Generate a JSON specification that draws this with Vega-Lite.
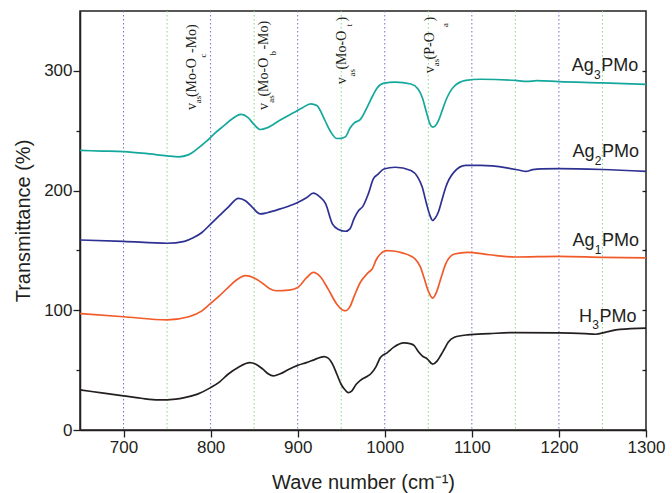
{
  "$schema": "https://vega.github.io/schema/vega-lite/v6.json",
  "width": 566,
  "height": 419,
  "autosize": {"type": "none"},
  "padding": {"left": 80, "top": 11, "right": 26, "bottom": 63},
  "background": "white",
  "config": {
    "view": {"stroke": "#231F20", "strokeWidth": 1.5},
    "axis": {"grid": false, "domainColor": "#231F20", "domainWidth": 1.5, "tickColor": "#231F20", "tickWidth": 1.3, "labelColor": "#231F20", "titleColor": "#231F20", "labelFont": "Liberation Sans", "titleFont": "Liberation Sans", "labelFontSize": 17, "titleFontSize": 20, "titleFontWeight": "normal"}
  },
  "datasets": {
    "curves": [
      {"s":"Ag3PMo","w":650,"t":233.5},{"s":"Ag3PMo","w":675,"t":233},{"s":"Ag3PMo","w":700,"t":232.5},{"s":"Ag3PMo","w":725,"t":231},{"s":"Ag3PMo","w":750,"t":229},{"s":"Ag3PMo","w":763,"t":228.2},{"s":"Ag3PMo","w":775,"t":230},{"s":"Ag3PMo","w":785,"t":235},{"s":"Ag3PMo","w":795,"t":241},{"s":"Ag3PMo","w":805,"t":248},{"s":"Ag3PMo","w":815,"t":254},{"s":"Ag3PMo","w":825,"t":260},{"s":"Ag3PMo","w":835,"t":263.6},{"s":"Ag3PMo","w":843,"t":261},{"s":"Ag3PMo","w":850,"t":255},{"s":"Ag3PMo","w":857,"t":251},{"s":"Ag3PMo","w":865,"t":252.5},{"s":"Ag3PMo","w":880,"t":259},{"s":"Ag3PMo","w":895,"t":265},{"s":"Ag3PMo","w":905,"t":269},{"s":"Ag3PMo","w":915,"t":272.5},{"s":"Ag3PMo","w":922,"t":271},{"s":"Ag3PMo","w":931,"t":259},{"s":"Ag3PMo","w":938,"t":249},{"s":"Ag3PMo","w":945,"t":243.5},{"s":"Ag3PMo","w":950,"t":243.6},{"s":"Ag3PMo","w":955,"t":245},{"s":"Ag3PMo","w":960,"t":252},{"s":"Ag3PMo","w":965,"t":256.5},{"s":"Ag3PMo","w":972,"t":259.5},{"s":"Ag3PMo","w":980,"t":270},{"s":"Ag3PMo","w":986,"t":279},{"s":"Ag3PMo","w":991,"t":285.5},{"s":"Ag3PMo","w":999,"t":289.7},{"s":"Ag3PMo","w":1012,"t":290.6},{"s":"Ag3PMo","w":1030,"t":289},{"s":"Ag3PMo","w":1038,"t":285},{"s":"Ag3PMo","w":1043,"t":278},{"s":"Ag3PMo","w":1048,"t":265},{"s":"Ag3PMo","w":1052,"t":255.5},{"s":"Ag3PMo","w":1055,"t":253},{"s":"Ag3PMo","w":1058,"t":254},{"s":"Ag3PMo","w":1062,"t":259},{"s":"Ag3PMo","w":1066,"t":267},{"s":"Ag3PMo","w":1070,"t":275},{"s":"Ag3PMo","w":1079,"t":286.5},{"s":"Ag3PMo","w":1093,"t":292},{"s":"Ag3PMo","w":1110,"t":293},{"s":"Ag3PMo","w":1150,"t":292},{"s":"Ag3PMo","w":1163,"t":291.2},{"s":"Ag3PMo","w":1175,"t":291.8},{"s":"Ag3PMo","w":1200,"t":291},{"s":"Ag3PMo","w":1250,"t":290},{"s":"Ag3PMo","w":1300,"t":288.7},

      {"s":"Ag2PMo","w":650,"t":158.7},{"s":"Ag2PMo","w":700,"t":157.6},{"s":"Ag2PMo","w":750,"t":156},{"s":"Ag2PMo","w":770,"t":157.6},{"s":"Ag2PMo","w":780,"t":160.5},{"s":"Ag2PMo","w":790,"t":165},{"s":"Ag2PMo","w":800,"t":172},{"s":"Ag2PMo","w":810,"t":179},{"s":"Ag2PMo","w":820,"t":186},{"s":"Ag2PMo","w":832,"t":193.5},{"s":"Ag2PMo","w":840,"t":191.5},{"s":"Ag2PMo","w":848,"t":186},{"s":"Ag2PMo","w":857,"t":180.5},{"s":"Ag2PMo","w":865,"t":181.5},{"s":"Ag2PMo","w":880,"t":184.7},{"s":"Ag2PMo","w":900,"t":190},{"s":"Ag2PMo","w":910,"t":194},{"s":"Ag2PMo","w":918,"t":197.8},{"s":"Ag2PMo","w":925,"t":195},{"s":"Ag2PMo","w":932,"t":189},{"s":"Ag2PMo","w":940,"t":172},{"s":"Ag2PMo","w":947,"t":167.5},{"s":"Ag2PMo","w":955,"t":166},{"s":"Ag2PMo","w":960,"t":168},{"s":"Ag2PMo","w":965,"t":177},{"s":"Ag2PMo","w":970,"t":183.3},{"s":"Ag2PMo","w":975,"t":187},{"s":"Ag2PMo","w":981,"t":197},{"s":"Ag2PMo","w":987,"t":210},{"s":"Ag2PMo","w":992,"t":213.5},{"s":"Ag2PMo","w":999,"t":218},{"s":"Ag2PMo","w":1012,"t":219.5},{"s":"Ag2PMo","w":1030,"t":216.7},{"s":"Ag2PMo","w":1038,"t":211},{"s":"Ag2PMo","w":1043,"t":203},{"s":"Ag2PMo","w":1048,"t":188.8},{"s":"Ag2PMo","w":1052,"t":179},{"s":"Ag2PMo","w":1055,"t":175},{"s":"Ag2PMo","w":1058,"t":177},{"s":"Ag2PMo","w":1062,"t":183},{"s":"Ag2PMo","w":1066,"t":193},{"s":"Ag2PMo","w":1070,"t":202.8},{"s":"Ag2PMo","w":1079,"t":215},{"s":"Ag2PMo","w":1093,"t":221},{"s":"Ag2PMo","w":1110,"t":221},{"s":"Ag2PMo","w":1140,"t":219},{"s":"Ag2PMo","w":1155,"t":217},{"s":"Ag2PMo","w":1162,"t":216},{"s":"Ag2PMo","w":1170,"t":217.5},{"s":"Ag2PMo","w":1180,"t":218.2},{"s":"Ag2PMo","w":1200,"t":218.4},{"s":"Ag2PMo","w":1250,"t":217.6},{"s":"Ag2PMo","w":1300,"t":216},

      {"s":"Ag1PMo","w":650,"t":97.3},{"s":"Ag1PMo","w":700,"t":94.6},{"s":"Ag1PMo","w":750,"t":92},{"s":"Ag1PMo","w":775,"t":94.6},{"s":"Ag1PMo","w":790,"t":99.5},{"s":"Ag1PMo","w":800,"t":105.7},{"s":"Ag1PMo","w":810,"t":112},{"s":"Ag1PMo","w":820,"t":119},{"s":"Ag1PMo","w":830,"t":125.5},{"s":"Ag1PMo","w":840,"t":128.9},{"s":"Ag1PMo","w":850,"t":127},{"s":"Ag1PMo","w":860,"t":122.4},{"s":"Ag1PMo","w":868,"t":118},{"s":"Ag1PMo","w":875,"t":116.3},{"s":"Ag1PMo","w":890,"t":116.8},{"s":"Ag1PMo","w":900,"t":119},{"s":"Ag1PMo","w":910,"t":127},{"s":"Ag1PMo","w":918,"t":131.6},{"s":"Ag1PMo","w":926,"t":128},{"s":"Ag1PMo","w":935,"t":117.7},{"s":"Ag1PMo","w":945,"t":105},{"s":"Ag1PMo","w":952,"t":100},{"s":"Ag1PMo","w":955,"t":99.6},{"s":"Ag1PMo","w":960,"t":103},{"s":"Ag1PMo","w":965,"t":112},{"s":"Ag1PMo","w":972,"t":123.4},{"s":"Ag1PMo","w":981,"t":131.5},{"s":"Ag1PMo","w":986,"t":135},{"s":"Ag1PMo","w":990,"t":142},{"s":"Ag1PMo","w":995,"t":147},{"s":"Ag1PMo","w":1002,"t":149.8},{"s":"Ag1PMo","w":1010,"t":149.5},{"s":"Ag1PMo","w":1020,"t":148},{"s":"Ag1PMo","w":1035,"t":142.8},{"s":"Ag1PMo","w":1041,"t":136},{"s":"Ag1PMo","w":1045,"t":127.4},{"s":"Ag1PMo","w":1050,"t":116},{"s":"Ag1PMo","w":1055,"t":110.2},{"s":"Ag1PMo","w":1060,"t":116.3},{"s":"Ag1PMo","w":1065,"t":128},{"s":"Ag1PMo","w":1070,"t":138.7},{"s":"Ag1PMo","w":1080,"t":147},{"s":"Ag1PMo","w":1095,"t":148.4},{"s":"Ag1PMo","w":1120,"t":146.4},{"s":"Ag1PMo","w":1150,"t":144.5},{"s":"Ag1PMo","w":1200,"t":145},{"s":"Ag1PMo","w":1250,"t":144.2},{"s":"Ag1PMo","w":1300,"t":143.7},

      {"s":"H3PMo","w":650,"t":33.5},{"s":"H3PMo","w":675,"t":31},{"s":"H3PMo","w":700,"t":28.5},{"s":"H3PMo","w":720,"t":26.5},{"s":"H3PMo","w":740,"t":25.1},{"s":"H3PMo","w":760,"t":25.8},{"s":"H3PMo","w":770,"t":27},{"s":"H3PMo","w":785,"t":30},{"s":"H3PMo","w":800,"t":35.4},{"s":"H3PMo","w":810,"t":40},{"s":"H3PMo","w":820,"t":46.6},{"s":"H3PMo","w":832,"t":52.5},{"s":"H3PMo","w":845,"t":56.3},{"s":"H3PMo","w":852,"t":55},{"s":"H3PMo","w":860,"t":50.8},{"s":"H3PMo","w":866,"t":47},{"s":"H3PMo","w":872,"t":45.2},{"s":"H3PMo","w":880,"t":47},{"s":"H3PMo","w":890,"t":50.8},{"s":"H3PMo","w":900,"t":54},{"s":"H3PMo","w":910,"t":56.3},{"s":"H3PMo","w":920,"t":59},{"s":"H3PMo","w":930,"t":61.3},{"s":"H3PMo","w":935,"t":60},{"s":"H3PMo","w":940,"t":55},{"s":"H3PMo","w":945,"t":46.6},{"s":"H3PMo","w":950,"t":38},{"s":"H3PMo","w":955,"t":33},{"s":"H3PMo","w":958,"t":31.2},{"s":"H3PMo","w":962,"t":32.5},{"s":"H3PMo","w":967,"t":38},{"s":"H3PMo","w":972,"t":41.5},{"s":"H3PMo","w":979,"t":44.5},{"s":"H3PMo","w":984,"t":47},{"s":"H3PMo","w":990,"t":53},{"s":"H3PMo","w":995,"t":60.5},{"s":"H3PMo","w":1003,"t":64.7},{"s":"H3PMo","w":1010,"t":69},{"s":"H3PMo","w":1022,"t":72.7},{"s":"H3PMo","w":1030,"t":72},{"s":"H3PMo","w":1034,"t":70.4},{"s":"H3PMo","w":1038,"t":66},{"s":"H3PMo","w":1043,"t":62},{"s":"H3PMo","w":1049,"t":59.2},{"s":"H3PMo","w":1055,"t":55},{"s":"H3PMo","w":1060,"t":57.5},{"s":"H3PMo","w":1064,"t":62},{"s":"H3PMo","w":1068,"t":67},{"s":"H3PMo","w":1073,"t":73.5},{"s":"H3PMo","w":1080,"t":77.5},{"s":"H3PMo","w":1095,"t":79.5},{"s":"H3PMo","w":1120,"t":80.5},{"s":"H3PMo","w":1150,"t":81.4},{"s":"H3PMo","w":1200,"t":81.2},{"s":"H3PMo","w":1230,"t":80.5},{"s":"H3PMo","w":1242,"t":80},{"s":"H3PMo","w":1255,"t":82},{"s":"H3PMo","w":1270,"t":84},{"s":"H3PMo","w":1300,"t":85.1}
    ],
    "grid": [
      {"g":700,"k":"a"},{"g":800,"k":"a"},{"g":900,"k":"a"},{"g":1000,"k":"a"},{"g":1100,"k":"a"},{"g":1200,"k":"a"},
      {"g":750,"k":"b"},{"g":850,"k":"b"},{"g":950,"k":"b"},{"g":1050,"k":"b"},{"g":1150,"k":"b"},{"g":1250,"k":"b"}
    ],
    "ann": [
      {"x":782.8,"y":267.2,"t":"v","k":"m"},{"x":789.1,"y":273.0,"t":"as","k":"s"},{"x":782.8,"y":278.1,"t":"(Mo-O","k":"m"},{"x":794.8,"y":311.1,"t":"c","k":"s"},{"x":782.8,"y":314.9,"t":"-Mo)","k":"m"},
      {"x":865.5,"y":267.2,"t":"v","k":"m"},{"x":872.4,"y":273.3,"t":"as","k":"s"},{"x":865.5,"y":278.5,"t":"(Mo-O","k":"m"},{"x":874.7,"y":312.8,"t":"b","k":"s"},{"x":865.5,"y":317.8,"t":"-Mo)","k":"m"},
      {"x":955.7,"y":288.9,"t":"v","k":"m"},{"x":965.5,"y":295.2,"t":"as","k":"s"},{"x":955.7,"y":301.1,"t":"(Mo-O","k":"m"},{"x":962.6,"y":337.1,"t":"t","k":"s"},{"x":955.7,"y":341.3,"t":")","k":"m"},
      {"x":1056.3,"y":297.9,"t":"v","k":"m"},{"x":1062,"y":303.8,"t":"as","k":"s"},{"x":1056.3,"y":309.5,"t":"(P-O","k":"m"},{"x":1073,"y":336.7,"t":"a","k":"s"},{"x":1056.3,"y":341.3,"t":")","k":"m"}
    ],
    "leg": [
      {"x":1291,"y":299.8,"pre":"Ag","sub":"3","post":"PMo"},
      {"x":1292,"y":227.8,"pre":"Ag","sub":"2","post":"PMo"},
      {"x":1292,"y":153.3,"pre":"Ag","sub":"1","post":"PMo"},
      {"x":1289,"y":90.5,"pre":"H","sub":"3","post":"PMo"}
    ]
  },
  "layer": [
    {
      "data": {"name": "grid"},
      "transform": [{"filter": "datum.k === 'a'"}],
      "mark": {"type": "rule", "strokeWidth": 1, "strokeDash": [1.5, 2.5], "color": "#6f6fd0"},
      "encoding": {
        "x": {"field": "g", "type": "quantitative", "scale": {"domain": [650, 1300]}, "axis": null}
      }
    },
    {
      "data": {"name": "grid"},
      "transform": [{"filter": "datum.k === 'b'"}],
      "mark": {"type": "rule", "strokeWidth": 1, "strokeDash": [1.5, 2.5], "color": "#86d886"},
      "encoding": {
        "x": {"field": "g", "type": "quantitative", "axis": null}
      }
    },
    {
      "data": {"name": "curves"},
      "mark": {"type": "line", "strokeWidth": 1.7, "interpolate": "monotone"},
      "encoding": {
        "x": {"field": "w", "type": "quantitative", "scale": {"domain": [650, 1300]},
              "axis": {"title": "Wave number (cm\u207B\u00B9)", "values": [700, 800, 900, 1000, 1100, 1200, 1300], "format": "d", "tickSize": 7, "labelPadding": 2, "labelFlush": false, "titlePadding": 17}},
        "y": {"field": "t", "type": "quantitative", "scale": {"domain": [0, 350]},
              "axis": {"title": "Transmittance (%)", "values": [0, 50, 100, 150, 200, 250, 300], "labelExpr": "datum.value % 100 === 0 ? datum.label : ''",
                       "tickSize": {"condition": {"test": "datum.value % 100 === 0", "value": 7}, "value": 4}, "labelPadding": 1, "titlePadding": 10}},
        "color": {"field": "s", "type": "nominal", "scale": {"domain": ["Ag3PMo", "Ag2PMo", "Ag1PMo", "H3PMo"], "range": ["#14a89c", "#2e3192", "#f15a29", "#231f20"]}, "legend": null}
      }
    },
    {
      "data": {"name": "ann"},
      "transform": [{"filter": "datum.k === 'm'"}],
      "mark": {"type": "text", "angle": 270, "align": "left", "baseline": "alphabetic", "font": "Liberation Serif", "fontSize": 14, "color": "#231F20"},
      "encoding": {
        "x": {"field": "x", "type": "quantitative", "axis": null},
        "y": {"field": "y", "type": "quantitative", "axis": null},
        "text": {"field": "t"}
      }
    },
    {
      "data": {"name": "ann"},
      "transform": [{"filter": "datum.k === 's'"}],
      "mark": {"type": "text", "angle": 270, "align": "left", "baseline": "alphabetic", "font": "Liberation Serif", "fontSize": 9, "color": "#231F20"},
      "encoding": {
        "x": {"field": "x", "type": "quantitative", "axis": null},
        "y": {"field": "y", "type": "quantitative", "axis": null},
        "text": {"field": "t"}
      }
    },
    {
      "data": {"name": "leg"},
      "mark": {"type": "text", "align": "right", "baseline": "alphabetic", "font": "Liberation Sans", "fontSize": 18, "color": "#231F20", "dx": -44.5},
      "encoding": {
        "x": {"field": "x", "type": "quantitative", "axis": null},
        "y": {"field": "y", "type": "quantitative", "axis": null},
        "text": {"field": "pre"}
      }
    },
    {
      "data": {"name": "leg"},
      "mark": {"type": "text", "align": "right", "baseline": "alphabetic", "font": "Liberation Sans", "fontSize": 12, "color": "#231F20", "dx": -37.5, "dy": 7.5},
      "encoding": {
        "x": {"field": "x", "type": "quantitative", "axis": null},
        "y": {"field": "y", "type": "quantitative", "axis": null},
        "text": {"field": "sub"}
      }
    },
    {
      "data": {"name": "leg"},
      "mark": {"type": "text", "align": "right", "baseline": "alphabetic", "font": "Liberation Sans", "fontSize": 18, "color": "#231F20"},
      "encoding": {
        "x": {"field": "x", "type": "quantitative", "axis": null},
        "y": {"field": "y", "type": "quantitative",
              "axis": {"orient": "right", "title": null, "labels": false, "domain": false, "values": [0, 50, 100, 150, 200, 250, 300], "tickSize": -4}},
        "text": {"field": "post"}
      }
    }
  ],
  "resolve": {"axis": {"y": "independent", "x": "independent"}}
}
